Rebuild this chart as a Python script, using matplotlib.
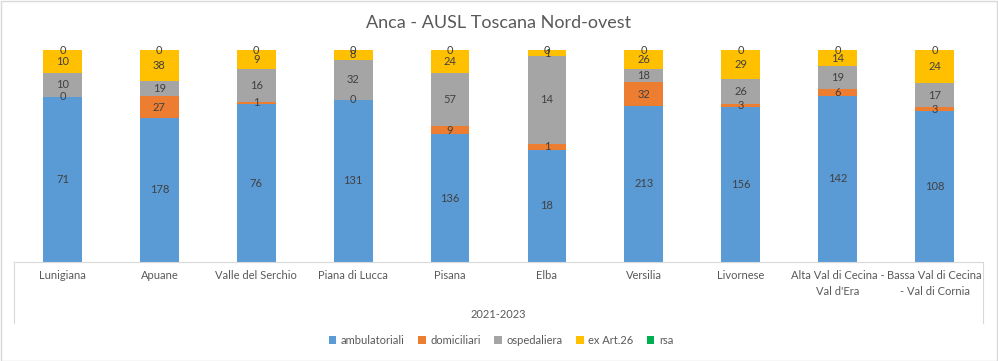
import matplotlib.pyplot as plt
from matplotlib import patches
from matplotlib.lines import Line2D
import numpy as np

plt.rcParams['font.family'] = ['Lato', 'DejaVu Sans']

# dati
zone = ['Lunigiana', 'Apuane', 'Valle del Serchio', 'Piana di Lucca', 'Pisana',
        'Elba', 'Versilia', 'Livornese', 'Alta Val di Cecina -\nVal d\'Era',
        'Bassa Val di Cecina\n- Val di Cornia']
ambulatoriali = [71, 178, 76, 131, 136, 18, 213, 156, 142, 108]
domiciliari = [0, 27, 1, 0, 9, 1, 32, 3, 6, 3]
ospedaliera = [10, 19, 16, 32, 57, 14, 18, 26, 19, 17]
ex_art26 = [10, 38, 9, 8, 24, 1, 26, 29, 14, 24]
rsa = [0, 0, 0, 0, 0, 0, 0, 0, 0, 0]

serie = [('ambulatoriali', ambulatoriali, '#5B9BD5'),
         ('domiciliari', domiciliari, '#ED7D31'),
         ('ospedaliera', ospedaliera, '#A5A5A5'),
         ('ex Art.26', ex_art26, '#FFC000'),
         ('rsa', rsa, '#00B050')]

W, H = 998, 361
fig = plt.figure(figsize=(W / 100, H / 100), dpi=100)
ax = fig.add_axes([14 / W, (H - 262) / H, 969 / W, 212 / H])

x = np.arange(len(zone))
tot = np.sum([s[1] for s in serie], axis=0).astype(float)
base = np.zeros(len(zone))
for nome, vals, col in serie:
    frac = np.array(vals) / tot
    ax.bar(x, frac, 0.4, bottom=base, color=col, label=nome, zorder=2)
    for i in range(len(zone)):
        ax.text(x[i], base[i] + frac[i] / 2, str(vals[i]), ha='center', va='center',
                fontsize=8, color='#404040', zorder=3)
    base += frac

ax.set_xlim(-0.5, len(zone) - 0.5)
ax.set_ylim(0, 1)
ax.set_yticks([])
for s in ['top', 'left', 'right']:
    ax.spines[s].set_visible(False)
ax.spines['bottom'].set_color('#D9D9D9')
ax.set_xticks(x)
ax.set_xticklabels(zone, fontsize=8, color='#595959', linespacing=1.5)
ax.tick_params(axis='x', length=0, pad=6)

# linee verticali dell'asse categorie
for xl in [14, 983]:
    fig.add_artist(Line2D([xl / W, xl / W], [(H - 262) / H, (H - 323) / H],
                          color='#D9D9D9', lw=0.8))

fig.text(498 / W, (H - 315) / H, '2021-2023', ha='center', va='center',
         fontsize=8, color='#595959')
fig.text(499 / W, (H - 23) / H, 'Anca - AUSL Toscana Nord-ovest', ha='center',
         va='center', fontsize=13, color='#595959')

fig.legend(loc='center', bbox_to_anchor=(501 / W, (H - 340) / H), ncol=5,
           frameon=False, fontsize=8, labelcolor='#595959', handlelength=0.7,
           handleheight=0.7, handletextpad=0.4, columnspacing=1.2)

fig.add_artist(patches.Rectangle((0.5 / W, 0.5 / H), 1 - 1.5 / W, 1 - 1.5 / H,
                                 transform=fig.transFigure, fill=False,
                                 edgecolor='#D9D9D9', lw=1))

fig.savefig('out.png', dpi=100)
